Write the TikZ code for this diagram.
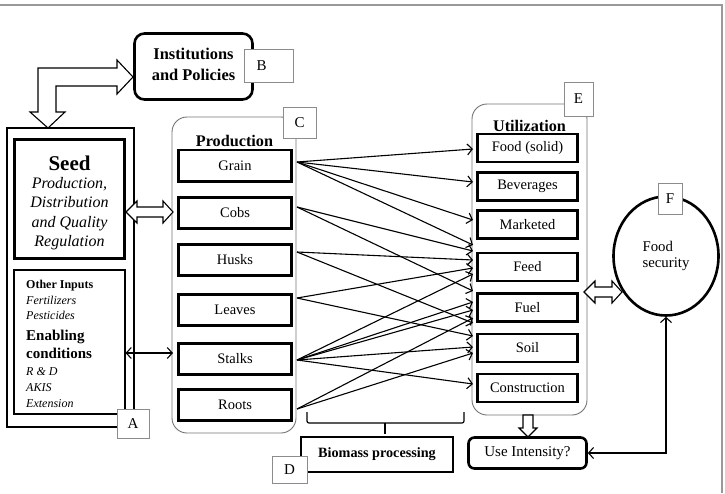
\documentclass[tikz,border=0pt]{standalone}
\usepackage{fontspec}
\setmainfont{Liberation Serif}
\usetikzlibrary{arrows.meta,calc,shapes.geometric}
\newcommand{\fsz}[2]{\fontsize{#1}{#2}\selectfont}
\begin{document}
\begin{tikzpicture}[x=1pt,y=-1pt,
  thickbox/.style={draw, line width=2.6pt, fill=white, inner sep=0pt},
  item/.style={thickbox, minimum width=113.4pt, minimum height=31.4pt, font=\fsz{14.5}{17}},
  uitem/.style={thickbox, minimum width=100.4pt, minimum height=28pt, font=\fsz{14.5}{17}},
  lab/.style={draw=black!45, line width=0.9pt, fill=white, inner sep=0pt, font=\fsz{15}{17}},
  container/.style={draw=black!55, line width=0.9pt, rounded corners=15pt},
  conn/.style={line width=1.1pt, -{Straight Barb[length=5pt,width=11pt]}},
  dconn/.style={line width=1.1pt, {Straight Barb[length=5pt,width=11pt]}-{Straight Barb[length=5pt,width=11pt]}},
  blockarrow/.style={draw, line width=1.1pt, fill=white, line join=miter},
  txt/.style={inner sep=0pt, anchor=base},
  txtl/.style={inner sep=0pt, anchor=base west}
]
\useasboundingbox (0,0) rectangle (725,493);
% frame
\draw[black!40, line width=1.5pt] (0,5) -- (722,5) -- (722,493);

% ---- A block
\node[draw, line width=1.1pt, minimum width=127pt, minimum height=299pt, inner sep=0pt] (boxA) at (70.5,277.5) {};
\node[thickbox, minimum width=110.4pt, minimum height=119.4pt] (seed) at (69.5,199) {};
\node[txt, font=\fsz{21}{24}\bfseries] (seedt) at (69.5,170) {Seed};
\node[txt, font=\fsz{16}{19}\itshape] (seed1) at (69.5,188) {Production,};
\node[txt, font=\fsz{16}{19}\itshape] (seed2) at (69.5,207) {Distribution};
\node[txt, font=\fsz{16}{19}\itshape] (seed3) at (69.5,227) {and Quality};
\node[txt, font=\fsz{16}{19}\itshape] (seed4) at (69.5,246) {Regulation};

\node[draw, line width=1.1pt, fill=white, minimum width=111pt, minimum height=144pt, inner sep=0pt] (other) at (69.5,342) {};
\node[txtl, font=\fsz{12}{14}\bfseries] (o1) at (26,288) {Other Inputs};
\node[txtl, font=\fsz{12}{14}\itshape] (o2) at (26,304) {Fertilizers};
\node[txtl, font=\fsz{12}{14}\itshape] (o3) at (26,319.5) {Pesticides};
\node[txtl, font=\fsz{15}{18}\bfseries] (o4) at (26,340) {Enabling};
\node[txtl, font=\fsz{15}{18}\bfseries] (o5) at (26,358) {conditions};
\node[txtl, font=\fsz{12}{14}\itshape] (o6) at (26,375) {R \& D};
\node[txtl, font=\fsz{12}{14}\itshape] (o7) at (26,391) {AKIS};
\node[txtl, font=\fsz{12}{14}\itshape] (o8) at (26,407) {Extension};
\node[lab, minimum width=32pt, minimum height=29pt] (labA) at (133,423.5) {A};

% ---- B block
\node[thickbox, rounded corners=10pt, minimum width=118pt, minimum height=66pt] (inst) at (193.5,66.5) {};
\node[txt, font=\fsz{16.4}{19}\bfseries] (inst1) at (193.5,59) {Institutions};
\node[txt, font=\fsz{16.4}{19}\bfseries] (inst2) at (193.5,80) {and Policies};
\node[lab, minimum width=49pt, minimum height=33pt] (labB) at (268.5,65.5) {\makebox[24pt][l]{B}};

% elbow block arrow between seed and institutions
\draw[blockarrow] (133,77) -- (117,60) -- (117,68) -- (38,68) -- (38,112) -- (30,112) -- (48,128)
  -- (65,112) -- (56,112) -- (56,86) -- (117,86) -- (117,94) -- cycle;

% ---- C block : production
\draw[container] (172,117) rectangle (296,433);
\node[txt, font=\fsz{16.2}{19}\bfseries] (prodt) at (234.5,146) {Production};
\node[lab, minimum width=33pt, minimum height=31pt] (labC) at (299.5,122.5) {C};
\node[item] (grain) at (235,165.5) {Grain};
\node[item] (cobs) at (235,213) {Cobs};
\node[item] (husks) at (235,260) {Husks};
\node[item] (leaves) at (235,310) {Leaves};
\node[item] (stalks) at (235,359) {Stalks};
\node[item] (roots) at (235,405) {Roots};

% seed <-> cobs block arrow
\draw[blockarrow] (126,212) -- (137,201) -- (137,207) -- (163,207) -- (163,201) -- (173,212)
  -- (163,223) -- (163,217) -- (137,217) -- (137,223) -- cycle;
% other inputs <-> stalks
\draw[dconn] ($(other.east)+(0,11)$) -- ($(stalks.west)+(-4,-6)$);

% ---- E block : utilization
\draw[container] (472,104) rectangle (587,415);
\node[txt, font=\fsz{16.2}{19}\bfseries] (utilt) at (529.5,131) {Utilization};
\node[lab, minimum width=29pt, minimum height=34pt] (labE) at (578.5,99) {E};
\node[uitem] (food) at (527.5,148) {Food (solid)};
\node[uitem] (bev) at (527.5,186.5) {Beverages};
\node[uitem] (mkt) at (527.5,224.5) {Marketed};
\node[uitem] (feed) at (527.5,267) {Feed};
\node[uitem] (fuel) at (527.5,307.5) {Fuel};
\node[uitem] (soil) at (527.5,348) {Soil};
\node[uitem] (constr) at (527.5,388) {Construction};

% flows production -> utilization
\foreach \s/\sd/\t/\td in {
  grain/-3.5/food/1, grain/-3.5/bev/-4.5, grain/-3.5/mkt/-4.5, grain/-3.5/feed/-22,
  cobs/-6/feed/-16, cobs/-6/fuel/-16.5,
  husks/-8/feed/-7, husks/-8/fuel/15.5,
  leaves/-12/feed/1, leaves/-12/soil/-12,
  stalks/1/feed/7, stalks/1/fuel/-5.5, stalks/1/fuel/2.5, stalks/1/soil/-1, stalks/1/constr/-4,
  roots/4/fuel/10.5, roots/4/soil/5}
  \draw[conn] ($(\s.east)+(4,\sd)$) -- ($(\t.west)+(-3,\td)$);

% ---- F : food security
\node[ellipse, draw, line width=2.6pt, minimum width=105pt, minimum height=119pt, inner sep=0pt,
  align=left, font=\fsz{14.8}{16}] (fs) at (666,256) {Food\\security};
\node[lab, minimum width=24pt, minimum height=31pt] (labF) at (670,198.5) {F};
% utilization <-> food security
\draw[blockarrow] (584,292) -- (595,281) -- (595,287) -- (612,287) -- (612,281) -- (622,292)
  -- (612,303) -- (612,297) -- (595,297) -- (595,303) -- cycle;

% ---- use intensity
\node[thickbox, rounded corners=6pt, minimum width=118pt, minimum height=31pt, font=\fsz{15}{17}] (useint) at (527.5,453) {Use Intensity?};
\draw[blockarrow] (523,415) -- (523,428) -- (519,428) -- (528,437) -- (537,428) -- (533,428) -- (533,415) -- cycle;
\draw[dconn] (fs.south) |- (useint.east);

% ---- D : biomass processing
\draw[line width=1.2pt, rounded corners=2pt] (307,412) -- (307,423) -- (464,423) -- (464,412);
\draw[line width=1.6pt] (385,423) -- (385,434);
\node[draw, line width=1.1pt, minimum width=152pt, minimum height=35pt, inner sep=0pt, font=\fsz{14.2}{17}\bfseries] (bio) at (377,454.5) {Biomass processing};
\node[lab, minimum width=35pt, minimum height=27pt] (labD) at (289.5,469.5) {D};
\end{tikzpicture}
\end{document}
